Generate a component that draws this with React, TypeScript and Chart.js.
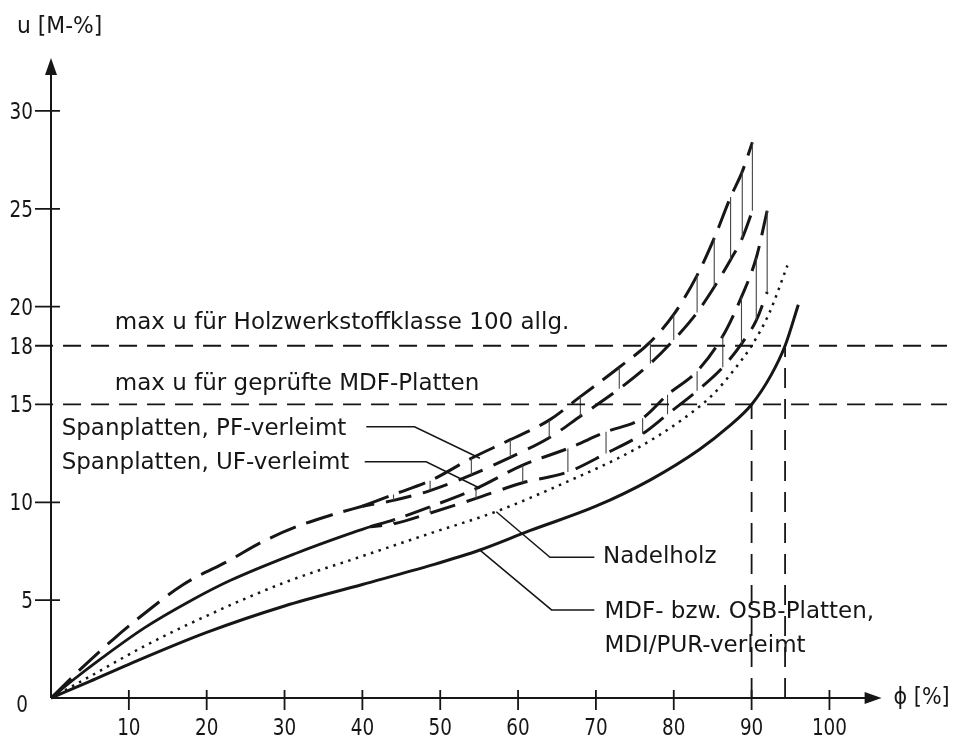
import React, { useEffect, useRef } from "react";
import { Chart, registerables } from "chart.js";

Chart.register(...registerables);

// ---------- data (phi in %, u in M-%) ----------
const xTickValues = [10, 20, 30, 40, 50, 60, 70, 80, 90, 100];
const yTickValues = [5, 10, 20, 25, 30];
const yTickLabels = [5, 10, 15, 18, 20, 25, 30];

const mdfPhi = [0, 5, 10, 20, 30, 40, 49, 55, 61.5, 70, 77, 83.3, 87, 90, 92.5, 94.3, 96];
const mdfU = [0, 0.85, 1.72, 3.35, 4.7, 5.8, 6.8, 7.55, 8.55, 9.8, 11.15, 12.7, 13.85, 15.0, 16.5, 18.0, 20.1];

const nadelPhi = [0, 5, 12, 20, 30, 40, 49, 57, 66, 75, 81, 85, 88, 90, 92.3, 94.6];
const nadelU = [0, 1.1, 2.65, 4.2, 5.9, 7.25, 8.45, 9.5, 11.0, 12.7, 14.2, 15.5, 16.9, 18.0, 19.7, 22.1];

const ufStartPhi = [0, 3, 6.3, 12, 18, 23, 31.5, 38, 41];
const ufStartU = [0, 0.97, 1.97, 3.58, 4.98, 6.0, 7.4, 8.35, 8.75];

const pfStartPhi = [0, 4, 8, 12, 17, 23, 27, 31.5, 36, 40];
const pfStartU = [0, 1.55, 3.0, 4.32, 5.8, 7.05, 7.95, 8.75, 9.35, 9.8];

const pfPhi = [40, 44, 48.7, 54, 59, 64, 68, 73, 77, 80, 83, 85.2, 87.3, 88.8, 90.1];
const pfHigh = [9.8, 10.4, 11.1, 12.25, 13.2, 14.2, 15.4, 16.9, 18.2, 19.6, 21.6, 23.5, 25.6, 26.9, 28.4];
const pfLow = [9.8, 10.1, 10.6, 11.4, 12.3, 13.3, 14.4, 15.8, 17.1, 18.3, 19.7, 21.0, 22.4, 23.5, 24.9];

const ufPhi = [41, 44, 48.7, 54.6, 60.6, 66.4, 71.3, 76, 79.2, 83, 86.3, 88.7, 90.6, 92];
const ufHigh = [8.75, 9.1, 9.77, 10.7, 11.9, 12.75, 13.6, 14.3, 15.5, 16.7, 18.5, 20.5, 22.5, 24.9];
const ufLow = [8.75, 8.9, 9.45, 10.2, 11.0, 11.55, 12.5, 13.5, 14.5, 15.7, 16.9, 18.1, 19.3, 20.75];

const refLevels = [18, 15];
const refLabels = ["max u für Holzwerkstoffklasse 100 allg.", "max u für geprüfte MDF-Platten"];
const refPhiAtLevel = [94.3, 90];
const refPhiRange = [-2.05, 115.1];

const pfLeaderPhi = [40.5, 46.7, 55.1];
const pfLeaderU = [13.86, 13.86, 12.25];
const ufLeaderPhi = [40.3, 48.2, 55.1];
const ufLeaderU = [12.07, 12.07, 10.72];
const nadelLeaderPhi = [57.2, 64.1, 69.8];
const nadelLeaderU = [9.52, 7.19, 7.19];
const mdfLeaderPhi = [55.1, 64.3, 69.8];
const mdfLeaderU = [7.56, 4.5, 4.5];

const noteTexts = [
  "Spanplatten, PF-verleimt",
  "Spanplatten, UF-verleimt",
  "Nadelholz",
  "MDF- bzw. OSB-Platten,",
  "MDI/PUR-verleimt",
];
const notePhi = [1.37, 1.37, 70.9, 71.1, 71.1];
const noteU = [13.44, 11.68, 6.88, 4.09, 2.37];
const refNotePhi = [8.2, 8.2];
const refNoteU = [18.88, 15.74];

const xAxisEnd = 106.7;
const yAxisEnd = 32.7;

// ---------- helpers ----------
const pts = (xs: number[], ys: number[]) => xs.map((x, i) => ({ x, y: ys[i] }));
const hatch = (xs: number[], lo: number[], hi: number[]) => {
  const out: { x: number; y: number | null }[] = [];
  xs.forEach((x, i) => {
    if (hi[i] - lo[i] > 0.05) {
      out.push({ x, y: lo[i] }, { x, y: hi[i] }, { x, y: null });
    }
  });
  return out;
};

const INK = "#161616";
const FONT = "23px 'DejaVu Sans', sans-serif";

function drawText(
  ctx: CanvasRenderingContext2D,
  s: string,
  px: number,
  py: number,
  align: CanvasTextAlign,
  baseline: CanvasTextBaseline,
  sx = 1
) {
  ctx.save();
  ctx.translate(px, py);
  ctx.scale(sx, 1);
  ctx.textAlign = align;
  ctx.textBaseline = baseline;
  ctx.fillText(s, 0, 0);
  ctx.restore();
}

const axesPlugin = {
  id: "technicalAxes",
  afterDatasetsDraw(chart: any) {
    const ctx: CanvasRenderingContext2D = chart.ctx;
    const xs = chart.scales.x;
    const ys = chart.scales.y;
    const X = (v: number) => xs.getPixelForValue(v);
    const Y = (v: number) => ys.getPixelForValue(v);
    const x0 = X(0);
    const y0 = Y(0);
    const xe = X(xAxisEnd);
    const ye = Y(yAxisEnd);
    ctx.save();
    ctx.strokeStyle = INK;
    ctx.fillStyle = INK;
    ctx.lineWidth = 2;
    ctx.lineCap = "butt";
    ctx.beginPath();
    ctx.moveTo(x0, y0);
    ctx.lineTo(xe - 12, y0);
    ctx.moveTo(x0, y0);
    ctx.lineTo(x0, ye + 12);
    ctx.stroke();
    // arrowheads
    ctx.beginPath();
    ctx.moveTo(xe, y0);
    ctx.lineTo(xe - 17, y0 - 6);
    ctx.lineTo(xe - 17, y0 + 6);
    ctx.closePath();
    ctx.fill();
    ctx.beginPath();
    ctx.moveTo(x0, ye);
    ctx.lineTo(x0 - 6, ye + 17);
    ctx.lineTo(x0 + 6, ye + 17);
    ctx.closePath();
    ctx.fill();
    // ticks
    ctx.lineWidth = 1.8;
    ctx.beginPath();
    xTickValues.forEach((v) => {
      const px = X(v);
      ctx.moveTo(px, y0 - 8);
      ctx.lineTo(px, y0 + 12);
    });
    yTickValues.forEach((v) => {
      const py = Y(v);
      ctx.moveTo(x0 - 16, py);
      ctx.lineTo(x0 + 9, py);
    });
    ctx.stroke();
    // tick labels
    ctx.font = FONT;
    xTickValues.forEach((v) => drawText(ctx, String(v), X(v), y0 + 31, "center", "middle", 0.8));
    yTickLabels.forEach((v) => drawText(ctx, String(v), x0 - 18, Y(v) + 2, "right", "middle", 0.8));
    drawText(ctx, "0", x0 - 23, y0 + 8, "right", "middle", 0.8);
    // axis titles
    drawText(ctx, "u [M-%]", x0 - 34, ye - 31, "left", "middle", 0.95);
    drawText(ctx, "\u03D5 [%]", xe + 12, y0, "left", "middle", 0.9);
    // annotations
    refLabels.forEach((s, i) => drawText(ctx, s, X(refNotePhi[i]), Y(refNoteU[i]), "left", "alphabetic"));
    noteTexts.forEach((s, i) => drawText(ctx, s, X(notePhi[i]), Y(noteU[i]), "left", "alphabetic"));
    ctx.restore();
  },
};

const line = (data: any[], extra: any = {}) => ({
  data,
  showLine: true,
  pointRadius: 0,
  borderColor: INK,
  borderWidth: 3,
  cubicInterpolationMode: "monotone",
  fill: false,
  ...extra,
});

export default function App() {
  const ref = useRef<HTMLCanvasElement | null>(null);
  useEffect(() => {
    if (!ref.current) return;
    const straight = { cubicInterpolationMode: "default", tension: 0 };
    const datasets: any[] = [
      // reference levels
      ...refLevels.map((lv) =>
        line(pts(refPhiRange, [lv, lv]), { borderWidth: 1.8, borderDash: [18, 10], ...straight })
      ),
      ...refLevels.map((lv, i) =>
        line(pts([refPhiAtLevel[i], refPhiAtLevel[i]], [0, lv]), { borderWidth: 1.8, borderDash: [20, 11], ...straight })
      ),
      // hatching
      line(hatch(pfPhi, pfLow, pfHigh), { borderWidth: 1.1, borderColor: "#444", spanGaps: false, ...straight }),
      line(hatch(ufPhi, ufLow, ufHigh), { borderWidth: 1.1, borderColor: "#444", spanGaps: false, ...straight }),
      // curves
      line(pts(mdfPhi, mdfU), { borderWidth: 3 }),
      line(pts(nadelPhi, nadelU), { borderWidth: 2.5, borderDash: [2.5, 5.5] }),
      line(pts(ufStartPhi, ufStartU), { borderWidth: 2.8 }),
      line(pts(pfStartPhi, pfStartU), { borderWidth: 3, borderDash: [28, 11] }),
      line(pts(pfPhi, pfHigh), { borderWidth: 3, borderDash: [28, 11] }),
      line(pts(pfPhi, pfLow), { borderWidth: 3, borderDash: [26, 12], borderDashOffset: 14 }),
      line(pts(ufPhi, ufHigh), { borderWidth: 3, borderDash: [26, 11] }),
      line(pts(ufPhi, ufLow), { borderWidth: 3, borderDash: [26, 12], borderDashOffset: 14 }),
      // leaders
      ...[
        [pfLeaderPhi, pfLeaderU],
        [ufLeaderPhi, ufLeaderU],
        [nadelLeaderPhi, nadelLeaderU],
        [mdfLeaderPhi, mdfLeaderU],
      ].map(([a, b]) => line(pts(a, b), { borderWidth: 1.5, ...straight })),
    ];
    const chart = new Chart(ref.current, {
      type: "scatter",
      data: { datasets },
      options: {
        animation: false,
        responsive: false,
        devicePixelRatio: 1,
        layout: { padding: 0 },
        plugins: { legend: { display: false }, tooltip: { enabled: false } },
        events: [],
        scales: {
          x: { type: "linear", min: -6.552, max: 116.0, display: false },
          y: { type: "linear", min: -2.402, max: 35.67, display: false },
        },
      },
      plugins: [axesPlugin],
    } as any);
    return () => chart.destroy();
  }, []);
  return (
    <div style={{ position: "fixed", left: 0, top: 0, width: 954, height: 745, background: "#fff" }}>
      <canvas ref={ref} width={954} height={745} style={{ display: "block" }} />
    </div>
  );
}
